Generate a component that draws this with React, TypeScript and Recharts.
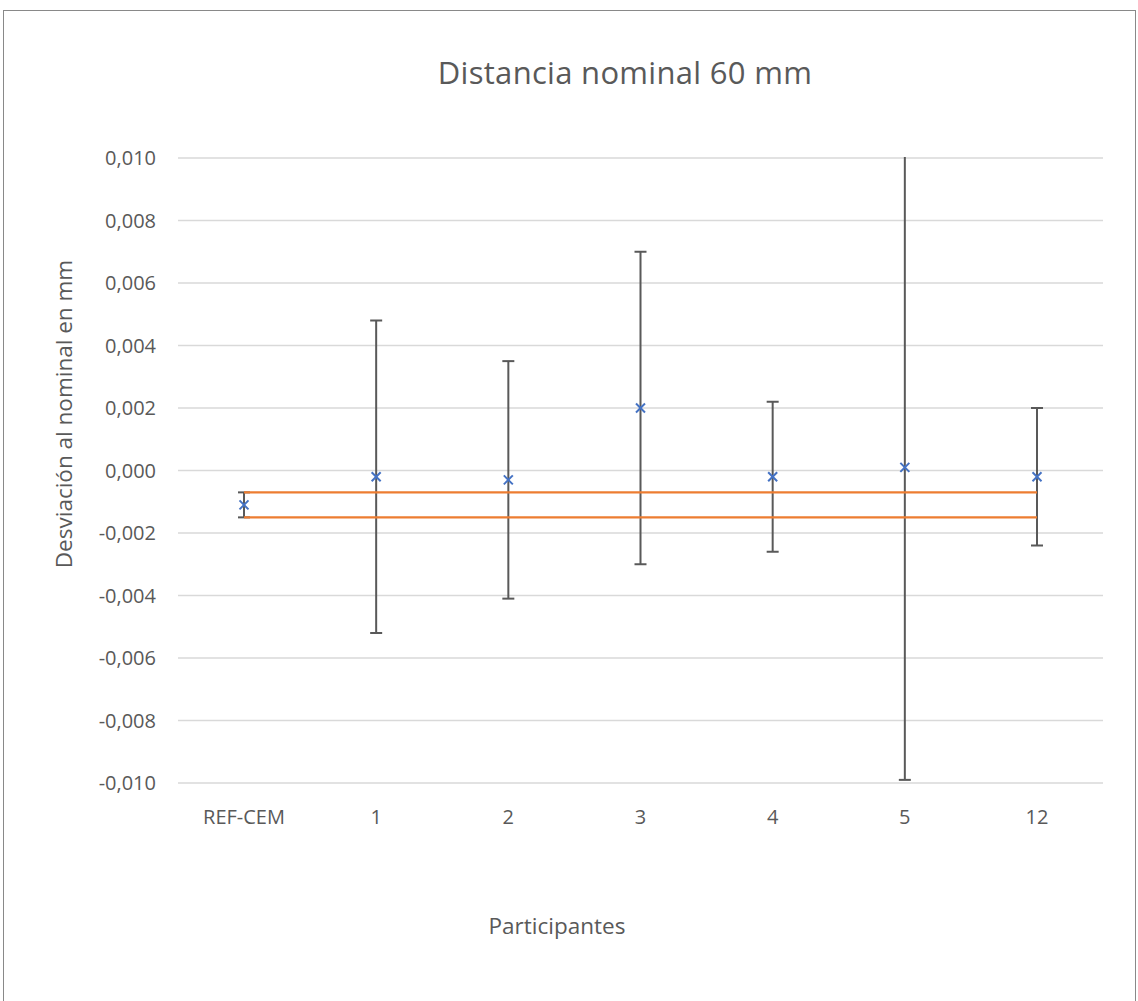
import React from 'react';
import {
  ComposedChart,
  Line,
  XAxis,
  YAxis,
  CartesianGrid,
  ErrorBar,
} from 'recharts';

const participants = ['REF-CEM', '1', '2', '3', '4', '5', '12'];
const deviations = [-0.0011, -0.0002, -0.0003, 0.002, -0.0002, 0.0001, -0.0002];
const uncertainties = [0.0004, 0.005, 0.0038, 0.005, 0.0024, 0.01, 0.0022];
const refUpper = [-0.0007, -0.0007, -0.0007, -0.0007, -0.0007, -0.0007, -0.0007];
const refLower = [-0.0015, -0.0015, -0.0015, -0.0015, -0.0015, -0.0015, -0.0015];
const yTicks = [-0.01, -0.008, -0.006, -0.004, -0.002, 0, 0.002, 0.004, 0.006, 0.008, 0.01];

const data = participants.map((p, i) => ({
  name: p,
  value: deviations[i],
  err: uncertainties[i],
  upper: refUpper[i],
  lower: refLower[i],
}));

const FONT = '"Open Sans", sans-serif';
const TEXT = '#595959';

const XMark = (props: any) => {
  const { cx, cy } = props;
  if (cx == null || cy == null) return null;
  const s = 4.5;
  return (
    <g>
      <line x1={cx - s} y1={cy - s} x2={cx + s} y2={cy + s} stroke="#4472C4" strokeWidth={2} />
      <line x1={cx - s} y1={cy + s} x2={cx + s} y2={cy - s} stroke="#4472C4" strokeWidth={2} />
    </g>
  );
};

const fmt = (v: number) => v.toFixed(3).replace('.', ',');

export default function App() {
  return (
    <div
      style={{
        position: 'absolute',
        left: 0,
        top: 0,
        width: 1138,
        height: 1001,
        background: '#fff',
        fontFamily: FONT,
        overflow: 'hidden',
      }}
    >
      <div
        style={{
          position: 'absolute',
          left: 3,
          top: 10,
          width: 1131,
          height: 1010,
          border: '1px solid #898989',
        }}
      />
      <div
        style={{
          position: 'absolute',
          left: 0,
          width: 1250,
          top: 51,
          textAlign: 'center',
          fontSize: 31,
          letterSpacing: 0.3,
          color: TEXT,
          lineHeight: '42px',
        }}
      >
        Distancia nominal 60 mm
      </div>
      <div
        style={{
          position: 'absolute',
          left: 64 - 200,
          top: 414 - 15,
          width: 400,
          height: 30,
          lineHeight: '30px',
          textAlign: 'center',
          fontSize: 22.5,
          color: TEXT,
          transform: 'rotate(-90deg)',
        }}
      >
        Desviación al nominal en mm
      </div>
      <div
        style={{
          position: 'absolute',
          left: 557 - 150,
          width: 300,
          top: 926 - 15,
          lineHeight: '30px',
          textAlign: 'center',
          fontSize: 22.5,
          color: TEXT,
        }}
      >
        Participantes
      </div>
      <div style={{ position: 'absolute', left: 0, top: 0 }}>
        <ComposedChart
          width={1138}
          height={1001}
          data={data}
          margin={{ top: 158, right: 35, bottom: 188, left: 98 }}
        >
          <CartesianGrid vertical={false} stroke="#d9d9d9" strokeWidth={1.3} />
          <XAxis
            dataKey="name"
            axisLine={false}
            tickLine={false}
            height={30}
            tickMargin={21}
            padding={{ left: 66, right: 66 }}
            tick={{ fill: TEXT, fontSize: 20, fontFamily: FONT }}
            interval={0}
          />
          <YAxis
            width={80}
            domain={[-0.01, 0.01]}
            ticks={yTicks}
            allowDataOverflow
            axisLine={false}
            tickLine={false}
            tickMargin={16}
            tickFormatter={fmt}
            tick={{ fill: TEXT, fontSize: 20, fontFamily: FONT }}
          />
          <Line
            dataKey="value"
            stroke="none"
            dot={<XMark />}
            activeDot={false}
            isAnimationActive={false}
          >
            <ErrorBar dataKey="err" direction="y" width={6} stroke="#595959" strokeWidth={2} />
          </Line>
          <Line
            dataKey="upper"
            stroke="#ED7D31"
            strokeWidth={2.2}
            dot={false}
            activeDot={false}
            isAnimationActive={false}
          />
          <Line
            dataKey="lower"
            stroke="#ED7D31"
            strokeWidth={2.2}
            dot={false}
            activeDot={false}
            isAnimationActive={false}
          />
        </ComposedChart>
      </div>
      {/* mask error-bar overflow above the plot top, as the axis clips it */}
      <div
        style={{
          position: 'absolute',
          left: 178,
          top: 140,
          width: 925,
          height: 17,
          background: '#fff',
        }}
      />
    </div>
  );
}
